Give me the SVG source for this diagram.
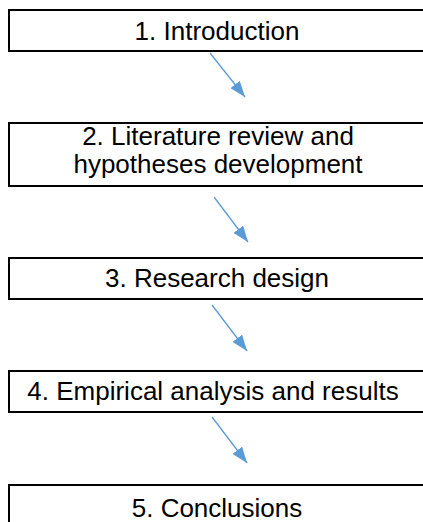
<svg xmlns="http://www.w3.org/2000/svg" width="423" height="522" viewBox="0 0 423 522">
  <style>
    .box { fill: #ffffff; stroke: #000000; stroke-width: 2; }
    .label { font-family: "Liberation Sans", Arial, sans-serif; font-size: 26px; fill: #000000; text-anchor: middle; }
    .link { stroke: #5B9BD5; stroke-width: 1.3; fill: none; marker-end: url(#head); }
  </style>
  <defs>
    <marker id="head" viewBox="0 0 10 10" refX="10" refY="5" markerWidth="16" markerHeight="12" markerUnits="userSpaceOnUse" orient="auto" preserveAspectRatio="none">
      <path d="M0,0 L10,5 L0,10 z" fill="#5B9BD5"/>
    </marker>
  </defs>
  <rect width="423" height="522" fill="#ffffff"/>

  <g id="connectors">
    <line class="link" x1="210" y1="53" x2="245" y2="97"/>
    <line class="link" x1="214" y1="197" x2="248" y2="242"/>
    <line class="link" x1="212" y1="305" x2="247" y2="351"/>
    <line class="link" x1="212" y1="417" x2="247" y2="463"/>
  </g>

  <g id="node1">
    <rect class="box" x="9" y="10" width="430" height="41"/>
    <text class="label" x="217" y="40">1. Introduction</text>
  </g>
  <g id="node2">
    <rect class="box" x="9" y="123" width="430" height="63"/>
    <text class="label" x="218" y="145">2. Literature review and</text>
    <text class="label" x="218" y="173">hypotheses development</text>
  </g>
  <g id="node3">
    <rect class="box" x="9" y="258" width="430" height="41"/>
    <text class="label" x="217" y="287">3. Research design</text>
  </g>
  <g id="node4">
    <rect class="box" x="9" y="371" width="430" height="41"/>
    <text class="label" x="213" y="400">4. Empirical analysis and results</text>
  </g>
  <g id="node5">
    <rect class="box" x="9" y="485" width="430" height="60"/>
    <text class="label" x="217" y="517">5. Conclusions</text>
  </g>
</svg>
